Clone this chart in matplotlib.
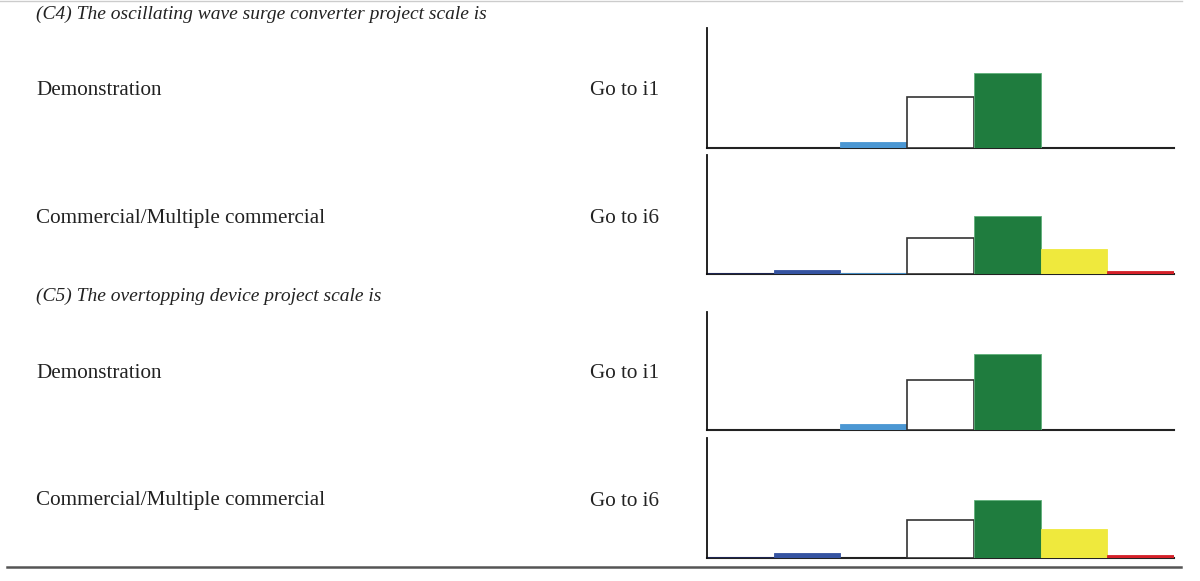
import matplotlib
matplotlib.use("Agg")
import matplotlib.pyplot as plt
from matplotlib.lines import Line2D

W, H = 1200, 581
fig = plt.figure(figsize=(W / 100, H / 100), dpi=100)

categories = ["c1", "c2", "c3", "c4", "c5", "c6", "c7"]
bar_colors = ["#1d2657", "#3553a1", "#4b97d3", "#ffffff", "#1f7c3e", "#efe93d", "#d42028"]
edge_colors = ["#1d2657", "#3553a1", "#4b97d3", "#333333", "#5fb07a", "#efe93d", "#d42028"]

c4_demo = [0, 0, 5.0, 42.5, 62.7, 0, 0]
c4_comm = [0.8, 3.4, 0.8, 30.0, 49.0, 21.0, 2.2]
c5_demo = [0, 0, 5.0, 41.8, 64.4, 0, 0]
c5_comm = [0.8, 4.0, 0.0, 31.0, 48.3, 24.0, 2.3]

headers = ["(C4) The oscillating wave surge converter project scale is",
           "(C5) The overtopping device project scale is"]
row_labels = ["Demonstration", "Commercial/Multiple commercial"]
goto_labels = ["Go to i1", "Go to i6"]

panels = [c4_demo, c4_comm, c5_demo, c5_comm]
# axes (top, bottom) in pixels
axes_px = [(28, 147.5), (155, 274), (311.5, 430), (438, 557.5)]
row_text_y = [91, 219, 374, 501]
header_y = [14, 296]

def fx(x):
    return x / W

def fy(y):
    return 1 - y / H

serif = ["Liberation Serif", "DejaVu Serif"]

for vals, (t, b) in zip(panels, axes_px):
    ax = fig.add_axes([fx(707), fy(b), fx(1174) - fx(707), (b - t) / H])
    for i, v in enumerate(vals):
        if v <= 0:
            continue
        ax.bar(i, v, width=1.0, align="edge", color=bar_colors[i],
               edgecolor=edge_colors[i], linewidth=1.2 if i == 3 else 0.6, zorder=2)
    ax.set_xlim(0, len(categories))
    ax.set_ylim(0, 100)
    for s in ["top", "right"]:
        ax.spines[s].set_visible(False)
    ax.spines["left"].set_linewidth(1.3)
    ax.spines["bottom"].set_linewidth(1.5)
    ax.spines["left"].set_color("#111111")
    ax.spines["bottom"].set_color("#222222")
    ax.spines["bottom"].set_zorder(1)
    ax.set_xticks([])
    ax.set_yticks([])
    ax.patch.set_alpha(0)

for k in range(2):
    fig.text(fx(36), fy(header_y[k]), headers[k], family=serif, style="italic",
             fontsize=14, va="center", ha="left", color="#222222")
    for j in range(2):
        y = row_text_y[2 * k + j]
        fig.text(fx(36), fy(y), row_labels[j], family=serif, fontsize=15.2,
                 va="center", ha="left", color="#222222")
        fig.text(fx(590), fy(y), goto_labels[j], family=serif, fontsize=15.2,
                 va="center", ha="left", color="#222222")

fig.add_artist(Line2D([fx(0), fx(1182)], [fy(1), fy(1)], color="#cccccc", linewidth=1.0))
fig.add_artist(Line2D([fx(7), fx(1181)], [fy(566.5), fy(566.5)], color="#555555", linewidth=1.8))

fig.savefig("out.png", dpi=100)
